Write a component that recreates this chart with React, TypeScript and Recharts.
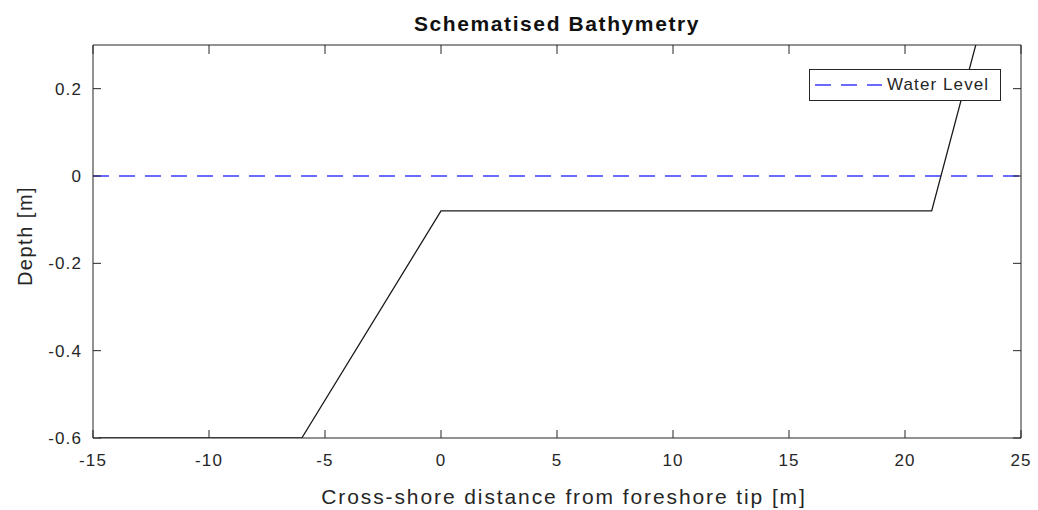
import React from 'react';
import { LineChart, Line, XAxis, YAxis, Legend, Label } from 'recharts';

// seabed profile: cross-shore distance [m] and bed level [m]
const bedX = [-14.75, -6, 0, 21.15, 24];
const bedZ = [-0.6, -0.6, -0.08, -0.08, 0.49];

// still water level
const waterX = [-15, 25];
const waterZ = [0, 0];

const xTicks = [-15, -10, -5, 0, 5, 10, 15, 20, 25];
const yTicks = [-0.6, -0.4, -0.2, 0, 0.2];

const bedData = bedX.map((x, i) => ({ x, z: bedZ[i] }));
const waterData = waterX.map((x, i) => ({ x, z: waterZ[i] }));

const FONT = '"Liberation Sans", Arial, Helvetica, sans-serif';
const INK = '#262626';

const tickStyle = { fill: INK, fontSize: 17, fontFamily: FONT, letterSpacing: 1.1 };
// box axes: inward tick marks only, no labels
const noLabel = () => '';

const WaterLegend = ({ payload }: any) => {
  const items = (payload || []).filter((p: any) => p.value === 'Water Level');
  return (
    <div
      style={{
        border: `1px solid ${INK}`,
        background: '#fff',
        width: 192,
        height: 32,
        boxSizing: 'border-box',
        display: 'flex',
        alignItems: 'center',
        fontFamily: FONT,
        fontSize: 17,
        color: INK,
      }}
    >
      {items.map((p: any) => (
        <React.Fragment key={p.value}>
          <svg width={72} height={6} style={{ marginLeft: 5 }}>
            <line x1={0} y1={3} x2={67} y2={3} stroke={p.color} strokeWidth={2} strokeDasharray="16 10" />
          </svg>
          <span style={{ letterSpacing: 1.1 }}>{p.value}</span>
        </React.Fragment>
      ))}
    </div>
  );
};

export default function App() {
  return (
    <div style={{ position: 'absolute', left: 0, top: 0, width: 1038, height: 510, background: '#fff' }}>
      <div
        style={{
          position: 'absolute',
          left: 0,
          width: 1114,
          top: 14,
          textAlign: 'center',
          fontFamily: FONT,
          fontWeight: 'bold',
          fontSize: 21,
          lineHeight: '20px',
          letterSpacing: 1.6,
          color: '#111',
        }}
      >
        Schematised Bathymetry
      </div>
      <LineChart width={1038} height={510} margin={{ top: 45, right: 16, bottom: 0, left: 0 }}>
        <XAxis
          type="number"
          dataKey="x"
          domain={[-15, 25]}
          ticks={xTicks}
          allowDataOverflow
          height={72}
          stroke={INK}
          tickSize={-8}
          tickMargin={24}
          interval={0}
          tick={tickStyle}
        >
          <Label
            value="Cross-shore distance from foreshore tip [m]"
            position="insideBottom"
            offset={6}
            dx={7}
            style={{ fill: INK, fontSize: 21, fontFamily: FONT, letterSpacing: 1.9 }}
          />
        </XAxis>
        <XAxis
          xAxisId="frameTop"
          orientation="top"
          type="number"
          dataKey="x"
          domain={[-15, 25]}
          ticks={xTicks}
          allowDataOverflow
          height={1}
          stroke={INK}
          mirror
          tickSize={9}
          interval={0}
          tickFormatter={noLabel}
          tick={tickStyle}
        />
        <YAxis
          type="number"
          dataKey="z"
          domain={[-0.6, 0.3]}
          ticks={yTicks}
          allowDataOverflow
          width={93}
          stroke={INK}
          tickSize={-8}
          tickMargin={19}
          interval={0}
          tick={tickStyle}
        >
          <Label
            content={() => (
              <text
                transform="translate(32, 236) rotate(-90)"
                textAnchor="middle"
                fill={INK}
                fontSize={20}
                fontFamily={FONT}
                letterSpacing={1.5}
              >
                Depth [m]
              </text>
            )}
          />
        </YAxis>
        <YAxis
          yAxisId="frameRight"
          orientation="right"
          type="number"
          domain={[-0.6, 0.3]}
          ticks={yTicks}
          allowDataOverflow
          width={1}
          stroke={INK}
          tickSize={-8}
          interval={0}
          tickFormatter={noLabel}
          tick={tickStyle}
        />
        <Legend
          layout="horizontal"
          verticalAlign="middle"
          content={<WaterLegend />}
          wrapperStyle={{ position: 'absolute', left: 809, top: 69, width: 'auto', height: 'auto' }}
        />
        <Line
          data={waterData}
          dataKey="z"
          name="Water Level"
          stroke="#6b6bff"
          strokeWidth={2}
          strokeDasharray="16 10"
          dot={false}
          activeDot={false}
          isAnimationActive={false}
        />
        <Line
          data={bedData}
          dataKey="z"
          name="Bed"
          legendType="none"
          stroke="#1a1a1a"
          strokeWidth={1.3}
          dot={false}
          activeDot={false}
          isAnimationActive={false}
        />
      </LineChart>
    </div>
  );
}
